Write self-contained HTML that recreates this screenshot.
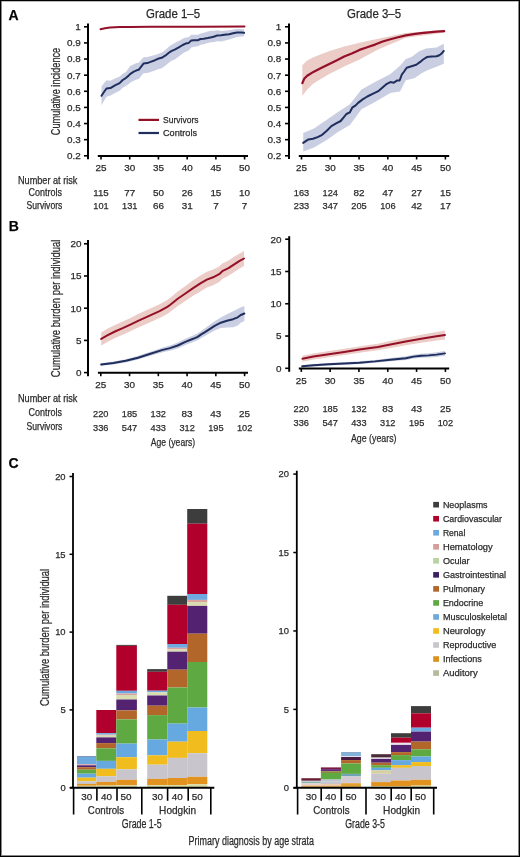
<!DOCTYPE html>
<html><head><meta charset="utf-8"><title>Figure</title>
<style>
html,body{margin:0;padding:0;background:#fff;}
body{width:520px;height:857px;overflow:hidden;position:relative;font-family:"Liberation Sans", sans-serif;}
svg{position:absolute;left:0;top:0;display:block;will-change:transform;}
svg text{font-family:"Liberation Sans", sans-serif;stroke:#2b2b2b;stroke-width:0.25px;}
</style></head>
<body>
<svg width="520" height="857" viewBox="0 0 520 857">
<rect x="0" y="0" width="520" height="857" fill="#fff"/>
<polygon points="101.50,86.42 104.00,83.23 106.50,80.34 110.40,80.83 115.00,78.51 119.60,76.58 122.70,73.73 125.80,72.08 128.80,68.00 130.00,66.10 133.80,64.13 136.70,63.07 138.70,62.79 140.60,60.61 143.50,57.14 147.30,57.08 151.20,56.02 155.00,55.06 157.90,53.99 161.70,52.61 165.60,49.80 168.50,47.09 171.30,44.89 175.20,42.81 178.80,41.01 182.70,38.82 185.60,37.57 188.50,37.23 191.30,34.68 194.20,34.64 198.10,34.85 200.50,33.50 203.80,32.85 207.70,31.61 211.50,30.85 214.40,30.74 217.30,30.33 221.20,31.01 224.40,30.63 229.20,30.32 233.10,29.57 236.90,28.92 240.80,29.07 244.10,29.50 244.10,36.30 240.80,36.40 236.90,36.90 233.10,38.17 229.20,39.57 224.40,40.67 221.20,41.57 217.30,41.26 214.40,41.94 211.50,42.32 207.70,43.11 203.80,44.16 200.50,44.66 198.10,46.15 194.20,46.80 191.30,47.48 188.50,50.65 185.60,51.63 182.70,53.52 178.80,56.57 175.20,59.17 171.30,61.05 168.50,63.07 165.60,65.59 161.70,68.15 157.90,69.29 155.00,70.51 151.20,71.66 147.30,72.91 143.50,73.17 140.60,76.78 138.70,79.06 136.70,79.43 133.80,80.64 130.00,82.80 128.80,83.89 125.80,86.09 122.70,87.86 119.60,90.82 115.00,92.92 110.40,95.42 106.50,96.66 104.00,100.77 101.50,105.18" fill="#cacee2"/>
<polyline points="101.50,95.80 104.00,92.00 106.50,88.50 110.40,88.10 115.00,85.40 119.60,83.10 122.70,80.00 125.80,78.10 128.80,75.40 130.00,74.10 133.80,71.70 136.70,70.30 138.70,69.80 140.60,67.40 143.50,63.60 147.30,63.10 151.20,61.60 155.00,60.20 157.90,58.80 161.70,57.80 165.60,55.40 168.50,53.00 171.30,51.10 175.20,49.40 178.80,47.40 182.70,45.00 185.60,43.60 188.50,43.10 191.30,40.40 194.20,40.20 198.10,40.20 200.50,39.00 203.80,38.80 207.70,38.10 211.50,37.30 214.40,36.50 217.30,35.40 221.20,35.20 224.40,34.70 229.20,34.20 233.10,33.30 236.90,32.50 240.80,32.50 244.10,32.80" fill="none" stroke="#1f2e5c" stroke-width="2.0" stroke-linejoin="round" stroke-linecap="round"/>
<polyline points="100.50,29.20 105.00,28.30 110.00,27.60 120.00,27.10 130.00,26.90 150.00,26.80 200.00,26.70 244.50,26.50" fill="none" stroke="#931028" stroke-width="2.0" stroke-linejoin="round" stroke-linecap="round"/>
<polygon points="302.30,65.20 307.20,60.40 313.40,57.30 328.80,51.20 344.20,46.50 359.50,42.70 378.00,38.80 405.80,33.10 444.20,29.80 444.20,32.80 405.80,37.70 378.00,49.60 359.50,59.60 344.20,66.50 328.80,74.20 313.40,83.50 307.20,89.60 302.30,95.80" fill="#ebccc6"/>
<polygon points="303.20,133.00 314.00,128.50 326.80,119.80 338.00,112.00 349.90,104.20 361.50,89.60 375.00,82.00 390.40,74.00 400.00,65.80 405.80,59.00 411.50,57.10 419.20,51.30 426.00,48.50 436.50,47.50 442.30,44.60 443.80,43.70 443.80,63.80 436.50,66.70 426.90,70.60 421.20,73.50 414.40,78.30 405.80,80.20 400.00,91.50 390.40,93.00 375.00,102.00 361.50,109.20 349.90,125.00 338.00,132.00 326.80,140.00 314.00,147.50 303.20,151.50" fill="#cacee2"/>
<polyline points="303.20,142.90 308.40,139.40 313.00,138.80 317.60,137.10 322.20,134.80 326.80,130.80 331.40,126.10 336.10,123.30 340.70,121.00 344.10,116.90 346.40,114.00 349.90,112.30 352.20,107.70 355.70,105.40 358.10,102.90 362.70,99.40 367.30,96.50 373.10,93.60 378.80,90.80 383.40,86.70 386.90,83.80 390.40,82.10 393.80,82.70 397.30,80.40 399.60,80.50 401.90,74.40 403.80,72.00 406.70,67.70 411.50,66.30 416.30,64.80 420.20,61.90 423.10,59.50 426.90,57.10 431.70,56.60 436.50,56.30 439.40,55.20 441.30,53.80 443.80,50.90" fill="none" stroke="#1f2e5c" stroke-width="2.0" stroke-linejoin="round" stroke-linecap="round"/>
<polyline points="302.30,83.20 304.20,78.80 307.20,75.80 313.40,71.90 321.10,68.10 328.80,64.20 336.50,60.40 344.20,56.50 351.80,53.50 359.50,49.90 367.20,47.30 375.00,44.60 382.70,41.50 390.40,39.20 398.10,37.20 405.80,35.40 413.50,34.20 421.20,33.10 428.80,32.30 436.50,31.70 444.20,31.20" fill="none" stroke="#931028" stroke-width="2.2" stroke-linejoin="round" stroke-linecap="round"/>
<line x1="88.00" y1="23.50" x2="88.00" y2="159.20" stroke="#000" stroke-width="2"/>
<line x1="84.00" y1="26.80" x2="88.00" y2="26.80" stroke="#000" stroke-width="1.6"/>
<text x="80.70" y="30.20" font-size="9.9" text-anchor="end" fill="#2b2b2b">1</text>
<line x1="84.00" y1="42.92" x2="88.00" y2="42.92" stroke="#000" stroke-width="1.6"/>
<text x="80.70" y="46.32" font-size="9.9" text-anchor="end" fill="#2b2b2b">0.9</text>
<line x1="84.00" y1="59.05" x2="88.00" y2="59.05" stroke="#000" stroke-width="1.6"/>
<text x="80.70" y="62.45" font-size="9.9" text-anchor="end" fill="#2b2b2b">0.8</text>
<line x1="84.00" y1="75.18" x2="88.00" y2="75.18" stroke="#000" stroke-width="1.6"/>
<text x="80.70" y="78.58" font-size="9.9" text-anchor="end" fill="#2b2b2b">0.7</text>
<line x1="84.00" y1="91.30" x2="88.00" y2="91.30" stroke="#000" stroke-width="1.6"/>
<text x="80.70" y="94.70" font-size="9.9" text-anchor="end" fill="#2b2b2b">0.6</text>
<line x1="84.00" y1="107.42" x2="88.00" y2="107.42" stroke="#000" stroke-width="1.6"/>
<text x="80.70" y="110.83" font-size="9.9" text-anchor="end" fill="#2b2b2b">0.5</text>
<line x1="84.00" y1="123.55" x2="88.00" y2="123.55" stroke="#000" stroke-width="1.6"/>
<text x="80.70" y="126.95" font-size="9.9" text-anchor="end" fill="#2b2b2b">0.4</text>
<line x1="84.00" y1="139.67" x2="88.00" y2="139.67" stroke="#000" stroke-width="1.6"/>
<text x="80.70" y="143.07" font-size="9.9" text-anchor="end" fill="#2b2b2b">0.3</text>
<line x1="84.00" y1="155.80" x2="88.00" y2="155.80" stroke="#000" stroke-width="1.6"/>
<text x="80.70" y="159.20" font-size="9.9" text-anchor="end" fill="#2b2b2b">0.2</text>
<line x1="97.80" y1="156.00" x2="248.00" y2="156.00" stroke="#000" stroke-width="2"/>
<line x1="101.00" y1="156.00" x2="101.00" y2="159.50" stroke="#000" stroke-width="1.6"/>
<text x="101.00" y="171.30" font-size="9.9" text-anchor="middle" fill="#2b2b2b">25</text>
<line x1="129.72" y1="156.00" x2="129.72" y2="159.50" stroke="#000" stroke-width="1.6"/>
<text x="129.72" y="171.30" font-size="9.9" text-anchor="middle" fill="#2b2b2b">30</text>
<line x1="158.44" y1="156.00" x2="158.44" y2="159.50" stroke="#000" stroke-width="1.6"/>
<text x="158.44" y="171.30" font-size="9.9" text-anchor="middle" fill="#2b2b2b">35</text>
<line x1="187.16" y1="156.00" x2="187.16" y2="159.50" stroke="#000" stroke-width="1.6"/>
<text x="187.16" y="171.30" font-size="9.9" text-anchor="middle" fill="#2b2b2b">40</text>
<line x1="215.88" y1="156.00" x2="215.88" y2="159.50" stroke="#000" stroke-width="1.6"/>
<text x="215.88" y="171.30" font-size="9.9" text-anchor="middle" fill="#2b2b2b">45</text>
<line x1="244.60" y1="156.00" x2="244.60" y2="159.50" stroke="#000" stroke-width="1.6"/>
<text x="244.60" y="171.30" font-size="9.9" text-anchor="middle" fill="#2b2b2b">50</text>
<line x1="289.00" y1="23.50" x2="289.00" y2="159.00" stroke="#000" stroke-width="2"/>
<line x1="285.00" y1="26.80" x2="289.00" y2="26.80" stroke="#000" stroke-width="1.6"/>
<text x="281.20" y="30.20" font-size="9.9" text-anchor="end" fill="#2b2b2b">1</text>
<line x1="285.00" y1="42.92" x2="289.00" y2="42.92" stroke="#000" stroke-width="1.6"/>
<text x="281.20" y="46.32" font-size="9.9" text-anchor="end" fill="#2b2b2b">0.9</text>
<line x1="285.00" y1="59.05" x2="289.00" y2="59.05" stroke="#000" stroke-width="1.6"/>
<text x="281.20" y="62.45" font-size="9.9" text-anchor="end" fill="#2b2b2b">0.8</text>
<line x1="285.00" y1="75.18" x2="289.00" y2="75.18" stroke="#000" stroke-width="1.6"/>
<text x="281.20" y="78.58" font-size="9.9" text-anchor="end" fill="#2b2b2b">0.7</text>
<line x1="285.00" y1="91.30" x2="289.00" y2="91.30" stroke="#000" stroke-width="1.6"/>
<text x="281.20" y="94.70" font-size="9.9" text-anchor="end" fill="#2b2b2b">0.6</text>
<line x1="285.00" y1="107.42" x2="289.00" y2="107.42" stroke="#000" stroke-width="1.6"/>
<text x="281.20" y="110.83" font-size="9.9" text-anchor="end" fill="#2b2b2b">0.5</text>
<line x1="285.00" y1="123.55" x2="289.00" y2="123.55" stroke="#000" stroke-width="1.6"/>
<text x="281.20" y="126.95" font-size="9.9" text-anchor="end" fill="#2b2b2b">0.4</text>
<line x1="285.00" y1="139.67" x2="289.00" y2="139.67" stroke="#000" stroke-width="1.6"/>
<text x="281.20" y="143.07" font-size="9.9" text-anchor="end" fill="#2b2b2b">0.3</text>
<line x1="285.00" y1="155.80" x2="289.00" y2="155.80" stroke="#000" stroke-width="1.6"/>
<text x="281.20" y="159.20" font-size="9.9" text-anchor="end" fill="#2b2b2b">0.2</text>
<line x1="298.80" y1="156.00" x2="449.20" y2="156.00" stroke="#000" stroke-width="2"/>
<line x1="301.50" y1="156.00" x2="301.50" y2="159.50" stroke="#000" stroke-width="1.6"/>
<text x="301.50" y="171.30" font-size="9.9" text-anchor="middle" fill="#2b2b2b">25</text>
<line x1="330.28" y1="156.00" x2="330.28" y2="159.50" stroke="#000" stroke-width="1.6"/>
<text x="330.28" y="171.30" font-size="9.9" text-anchor="middle" fill="#2b2b2b">30</text>
<line x1="359.06" y1="156.00" x2="359.06" y2="159.50" stroke="#000" stroke-width="1.6"/>
<text x="359.06" y="171.30" font-size="9.9" text-anchor="middle" fill="#2b2b2b">35</text>
<line x1="387.84" y1="156.00" x2="387.84" y2="159.50" stroke="#000" stroke-width="1.6"/>
<text x="387.84" y="171.30" font-size="9.9" text-anchor="middle" fill="#2b2b2b">40</text>
<line x1="416.62" y1="156.00" x2="416.62" y2="159.50" stroke="#000" stroke-width="1.6"/>
<text x="416.62" y="171.30" font-size="9.9" text-anchor="middle" fill="#2b2b2b">45</text>
<line x1="445.40" y1="156.00" x2="445.40" y2="159.50" stroke="#000" stroke-width="1.6"/>
<text x="445.40" y="171.30" font-size="9.9" text-anchor="middle" fill="#2b2b2b">50</text>
<text x="146.00" y="17.80" font-size="12" text-anchor="start" textLength="54" lengthAdjust="spacingAndGlyphs" fill="#2b2b2b">Grade 1–5</text>
<text x="347.00" y="17.80" font-size="12" text-anchor="start" textLength="54" lengthAdjust="spacingAndGlyphs" fill="#2b2b2b">Grade 3–5</text>
<text transform="translate(60.3,91.5) rotate(-90)" font-size="12" text-anchor="middle" textLength="87.4" lengthAdjust="spacingAndGlyphs" fill="#2b2b2b">Cumulative incidence</text>
<line x1="138.50" y1="119.90" x2="159.00" y2="119.90" stroke="#931028" stroke-width="2.2"/>
<line x1="138.50" y1="133.00" x2="159.00" y2="133.00" stroke="#1f2e5c" stroke-width="2.2"/>
<text x="163.00" y="123.40" font-size="9.8" text-anchor="start" textLength="35.5" lengthAdjust="spacingAndGlyphs" fill="#2b2b2b">Survivors</text>
<text x="163.00" y="136.00" font-size="9.8" text-anchor="start" textLength="34" lengthAdjust="spacingAndGlyphs" fill="#2b2b2b">Controls</text>
<text x="8.40" y="19.60" font-size="14" text-anchor="start" font-weight="bold" fill="#000">A</text>
<text x="8.80" y="231.20" font-size="14" text-anchor="start" font-weight="bold" fill="#000">B</text>
<text x="8.40" y="468.30" font-size="14" text-anchor="start" font-weight="bold" fill="#000">C</text>
<text x="18.00" y="183.50" font-size="10.1" text-anchor="start" textLength="59.4" lengthAdjust="spacingAndGlyphs" fill="#2b2b2b">Number at risk</text>
<text x="62.00" y="196.40" font-size="10.1" text-anchor="end" textLength="33.5" lengthAdjust="spacingAndGlyphs" fill="#2b2b2b">Controls</text>
<text x="62.30" y="208.70" font-size="10.1" text-anchor="end" textLength="35.7" lengthAdjust="spacingAndGlyphs" fill="#2b2b2b">Survivors</text>
<text x="101.00" y="196.20" font-size="9.9" text-anchor="middle" textLength="15.4" lengthAdjust="spacingAndGlyphs" fill="#2b2b2b">115</text>
<text x="101.00" y="208.80" font-size="9.9" text-anchor="middle" textLength="15.4" lengthAdjust="spacingAndGlyphs" fill="#2b2b2b">101</text>
<text x="129.72" y="196.20" font-size="9.9" text-anchor="middle" fill="#2b2b2b">77</text>
<text x="129.72" y="208.80" font-size="9.9" text-anchor="middle" textLength="15.4" lengthAdjust="spacingAndGlyphs" fill="#2b2b2b">131</text>
<text x="158.44" y="196.20" font-size="9.9" text-anchor="middle" fill="#2b2b2b">50</text>
<text x="158.44" y="208.80" font-size="9.9" text-anchor="middle" fill="#2b2b2b">66</text>
<text x="187.16" y="196.20" font-size="9.9" text-anchor="middle" fill="#2b2b2b">26</text>
<text x="187.16" y="208.80" font-size="9.9" text-anchor="middle" fill="#2b2b2b">31</text>
<text x="215.88" y="196.20" font-size="9.9" text-anchor="middle" fill="#2b2b2b">15</text>
<text x="215.88" y="208.80" font-size="9.9" text-anchor="middle" fill="#2b2b2b">7</text>
<text x="244.60" y="196.20" font-size="9.9" text-anchor="middle" fill="#2b2b2b">10</text>
<text x="244.60" y="208.80" font-size="9.9" text-anchor="middle" fill="#2b2b2b">7</text>
<text x="301.50" y="196.20" font-size="9.9" text-anchor="middle" textLength="15.4" lengthAdjust="spacingAndGlyphs" fill="#2b2b2b">163</text>
<text x="301.50" y="208.80" font-size="9.9" text-anchor="middle" textLength="15.4" lengthAdjust="spacingAndGlyphs" fill="#2b2b2b">233</text>
<text x="330.28" y="196.20" font-size="9.9" text-anchor="middle" textLength="15.4" lengthAdjust="spacingAndGlyphs" fill="#2b2b2b">124</text>
<text x="330.28" y="208.80" font-size="9.9" text-anchor="middle" textLength="15.4" lengthAdjust="spacingAndGlyphs" fill="#2b2b2b">347</text>
<text x="359.06" y="196.20" font-size="9.9" text-anchor="middle" fill="#2b2b2b">82</text>
<text x="359.06" y="208.80" font-size="9.9" text-anchor="middle" textLength="15.4" lengthAdjust="spacingAndGlyphs" fill="#2b2b2b">205</text>
<text x="387.84" y="196.20" font-size="9.9" text-anchor="middle" fill="#2b2b2b">47</text>
<text x="387.84" y="208.80" font-size="9.9" text-anchor="middle" textLength="15.4" lengthAdjust="spacingAndGlyphs" fill="#2b2b2b">106</text>
<text x="416.62" y="196.20" font-size="9.9" text-anchor="middle" fill="#2b2b2b">27</text>
<text x="416.62" y="208.80" font-size="9.9" text-anchor="middle" fill="#2b2b2b">42</text>
<text x="445.40" y="196.20" font-size="9.9" text-anchor="middle" fill="#2b2b2b">15</text>
<text x="445.40" y="208.80" font-size="9.9" text-anchor="middle" fill="#2b2b2b">17</text>
<polygon points="101.20,332.40 107.30,328.85 115.00,324.90 122.70,321.54 130.40,317.89 138.10,314.03 145.80,310.58 153.50,306.92 159.60,304.28 167.30,299.92 170.00,298.00 177.70,291.54 185.40,285.99 193.10,280.33 200.80,275.21 206.90,271.68 213.10,269.45 219.20,266.42 222.30,263.45 228.50,260.42 234.60,256.59 239.20,253.65 244.00,251.00 244.00,266.00 239.20,268.75 234.60,271.81 228.50,275.78 222.30,278.95 219.20,281.98 213.10,285.15 206.90,287.52 200.80,291.19 193.10,295.87 185.40,301.01 177.70,306.06 170.00,312.00 167.30,313.88 159.60,318.12 153.50,320.68 145.80,324.22 138.10,327.57 130.40,331.31 122.70,334.86 115.00,338.10 107.30,341.95 101.20,345.40" fill="#ebccc6"/>
<polygon points="101.20,363.20 113.50,361.42 125.80,359.15 138.10,355.87 150.40,351.69 162.70,347.46 170.00,345.40 177.70,342.59 185.40,338.79 193.10,335.48 197.70,333.36 200.80,331.14 205.40,328.00 210.00,324.55 214.60,321.20 220.80,317.51 226.90,314.19 233.10,311.14 237.70,309.10 240.80,307.14 244.40,306.00 244.40,321.00 240.80,322.86 237.70,325.50 233.10,327.26 226.90,327.41 220.80,327.89 214.60,330.40 210.00,333.05 205.40,335.80 200.80,338.26 197.70,340.24 193.10,342.12 185.40,345.01 177.70,348.41 170.00,350.80 162.70,352.34 150.40,355.71 138.10,359.53 125.80,362.45 113.50,364.38 101.20,365.80" fill="#cacee2"/>
<polyline points="101.20,338.90 107.30,335.40 115.00,331.50 122.70,328.20 130.40,324.60 138.10,320.80 145.80,317.40 153.50,313.80 159.60,311.20 167.30,306.90 170.00,305.00 177.70,298.80 185.40,293.50 193.10,288.10 200.80,283.20 206.90,279.60 213.10,277.30 219.20,274.20 222.30,271.20 228.50,268.10 234.60,264.20 239.20,261.20 244.00,258.50" fill="none" stroke="#931028" stroke-width="2.0" stroke-linejoin="round" stroke-linecap="round"/>
<polyline points="101.20,364.50 113.50,362.90 125.80,360.80 138.10,357.70 150.40,353.70 162.70,349.90 170.00,348.10 177.70,345.50 185.40,341.90 193.10,338.80 197.70,336.80 200.80,334.70 205.40,331.90 210.00,328.80 214.60,325.80 220.80,322.70 226.90,320.80 233.10,319.20 237.70,317.30 240.80,315.00 244.40,313.50" fill="none" stroke="#1f2e5c" stroke-width="2.0" stroke-linejoin="round" stroke-linecap="round"/>
<polygon points="302.40,355.79 313.40,353.45 328.80,351.09 344.20,348.74 359.50,346.38 370.30,344.74 378.00,343.71 390.40,341.12 405.80,337.76 421.20,334.80 436.50,331.94 445.00,330.60 445.00,339.40 436.50,340.46 421.20,342.80 405.80,345.24 390.40,348.08 378.00,350.29 370.30,351.26 359.50,352.82 344.20,355.06 328.80,357.31 313.40,359.55 302.40,361.81" fill="#ebccc6"/>
<polygon points="302.20,365.29 313.40,364.22 328.80,363.02 344.20,362.23 359.50,361.33 375.00,359.93 390.40,358.06 405.80,356.34 413.50,354.64 421.20,353.63 428.80,353.22 436.50,352.32 445.00,351.00 445.00,355.80 436.50,356.88 428.80,357.58 421.20,357.77 413.50,358.56 405.80,360.06 390.40,361.34 375.00,362.87 359.50,364.07 344.20,364.77 328.80,365.38 313.40,366.38 302.20,367.31" fill="#cacee2"/>
<polyline points="302.40,358.80 313.40,356.50 328.80,354.20 344.20,351.90 359.50,349.60 370.30,348.00 378.00,347.00 390.40,344.60 405.80,341.50 421.20,338.80 436.50,336.20 445.00,335.00" fill="none" stroke="#931028" stroke-width="2.0" stroke-linejoin="round" stroke-linecap="round"/>
<polyline points="302.20,366.30 313.40,365.30 328.80,364.20 344.20,363.50 359.50,362.70 375.00,361.40 390.40,359.70 405.80,358.20 413.50,356.60 421.20,355.70 428.80,355.40 436.50,354.60 445.00,353.40" fill="none" stroke="#1f2e5c" stroke-width="1.9" stroke-linejoin="round" stroke-linecap="round"/>
<line x1="88.00" y1="240.00" x2="88.00" y2="376.30" stroke="#000" stroke-width="2"/>
<line x1="84.00" y1="243.80" x2="88.00" y2="243.80" stroke="#000" stroke-width="1.6"/>
<text x="81.50" y="247.20" font-size="9.9" text-anchor="end" fill="#2b2b2b">20</text>
<line x1="84.00" y1="276.00" x2="88.00" y2="276.00" stroke="#000" stroke-width="1.6"/>
<text x="81.50" y="279.40" font-size="9.9" text-anchor="end" fill="#2b2b2b">15</text>
<line x1="84.00" y1="308.20" x2="88.00" y2="308.20" stroke="#000" stroke-width="1.6"/>
<text x="81.50" y="311.60" font-size="9.9" text-anchor="end" fill="#2b2b2b">10</text>
<line x1="84.00" y1="340.40" x2="88.00" y2="340.40" stroke="#000" stroke-width="1.6"/>
<text x="81.50" y="343.80" font-size="9.9" text-anchor="end" fill="#2b2b2b">5</text>
<line x1="84.00" y1="372.60" x2="88.00" y2="372.60" stroke="#000" stroke-width="1.6"/>
<text x="81.50" y="376.00" font-size="9.9" text-anchor="end" fill="#2b2b2b">0</text>
<line x1="97.90" y1="372.70" x2="248.00" y2="372.70" stroke="#000" stroke-width="2"/>
<line x1="100.80" y1="372.70" x2="100.80" y2="376.20" stroke="#000" stroke-width="1.6"/>
<text x="100.80" y="388.00" font-size="9.9" text-anchor="middle" fill="#2b2b2b">25</text>
<line x1="129.56" y1="372.70" x2="129.56" y2="376.20" stroke="#000" stroke-width="1.6"/>
<text x="129.56" y="388.00" font-size="9.9" text-anchor="middle" fill="#2b2b2b">30</text>
<line x1="158.32" y1="372.70" x2="158.32" y2="376.20" stroke="#000" stroke-width="1.6"/>
<text x="158.32" y="388.00" font-size="9.9" text-anchor="middle" fill="#2b2b2b">35</text>
<line x1="187.08" y1="372.70" x2="187.08" y2="376.20" stroke="#000" stroke-width="1.6"/>
<text x="187.08" y="388.00" font-size="9.9" text-anchor="middle" fill="#2b2b2b">40</text>
<line x1="215.84" y1="372.70" x2="215.84" y2="376.20" stroke="#000" stroke-width="1.6"/>
<text x="215.84" y="388.00" font-size="9.9" text-anchor="middle" fill="#2b2b2b">45</text>
<line x1="244.60" y1="372.70" x2="244.60" y2="376.20" stroke="#000" stroke-width="1.6"/>
<text x="244.60" y="388.00" font-size="9.9" text-anchor="middle" fill="#2b2b2b">50</text>
<line x1="289.20" y1="236.20" x2="289.20" y2="371.80" stroke="#000" stroke-width="2"/>
<line x1="285.20" y1="239.20" x2="289.20" y2="239.20" stroke="#000" stroke-width="1.6"/>
<text x="281.50" y="242.60" font-size="9.9" text-anchor="end" fill="#2b2b2b">20</text>
<line x1="285.20" y1="271.48" x2="289.20" y2="271.48" stroke="#000" stroke-width="1.6"/>
<text x="281.50" y="274.88" font-size="9.9" text-anchor="end" fill="#2b2b2b">15</text>
<line x1="285.20" y1="303.75" x2="289.20" y2="303.75" stroke="#000" stroke-width="1.6"/>
<text x="281.50" y="307.15" font-size="9.9" text-anchor="end" fill="#2b2b2b">10</text>
<line x1="285.20" y1="336.03" x2="289.20" y2="336.03" stroke="#000" stroke-width="1.6"/>
<text x="281.50" y="339.43" font-size="9.9" text-anchor="end" fill="#2b2b2b">5</text>
<line x1="285.20" y1="368.30" x2="289.20" y2="368.30" stroke="#000" stroke-width="1.6"/>
<text x="281.50" y="371.70" font-size="9.9" text-anchor="end" fill="#2b2b2b">0</text>
<line x1="298.80" y1="368.40" x2="449.20" y2="368.40" stroke="#000" stroke-width="2"/>
<line x1="301.30" y1="368.40" x2="301.30" y2="371.90" stroke="#000" stroke-width="1.6"/>
<text x="301.30" y="383.80" font-size="9.9" text-anchor="middle" fill="#2b2b2b">25</text>
<line x1="330.12" y1="368.40" x2="330.12" y2="371.90" stroke="#000" stroke-width="1.6"/>
<text x="330.12" y="383.80" font-size="9.9" text-anchor="middle" fill="#2b2b2b">30</text>
<line x1="358.94" y1="368.40" x2="358.94" y2="371.90" stroke="#000" stroke-width="1.6"/>
<text x="358.94" y="383.80" font-size="9.9" text-anchor="middle" fill="#2b2b2b">35</text>
<line x1="387.76" y1="368.40" x2="387.76" y2="371.90" stroke="#000" stroke-width="1.6"/>
<text x="387.76" y="383.80" font-size="9.9" text-anchor="middle" fill="#2b2b2b">40</text>
<line x1="416.58" y1="368.40" x2="416.58" y2="371.90" stroke="#000" stroke-width="1.6"/>
<text x="416.58" y="383.80" font-size="9.9" text-anchor="middle" fill="#2b2b2b">45</text>
<line x1="445.40" y1="368.40" x2="445.40" y2="371.90" stroke="#000" stroke-width="1.6"/>
<text x="445.40" y="383.80" font-size="9.9" text-anchor="middle" fill="#2b2b2b">50</text>
<text transform="translate(60.3,308.4) rotate(-90)" font-size="12" text-anchor="middle" textLength="137.5" lengthAdjust="spacingAndGlyphs" fill="#2b2b2b">Cumulative burden per individual</text>
<text x="18.00" y="402.40" font-size="10.1" text-anchor="start" textLength="59.4" lengthAdjust="spacingAndGlyphs" fill="#2b2b2b">Number at risk</text>
<text x="62.00" y="416.40" font-size="10.1" text-anchor="end" textLength="33.5" lengthAdjust="spacingAndGlyphs" fill="#2b2b2b">Controls</text>
<text x="62.30" y="429.80" font-size="10.1" text-anchor="end" textLength="35.7" lengthAdjust="spacingAndGlyphs" fill="#2b2b2b">Survivors</text>
<text x="100.80" y="416.60" font-size="9.9" text-anchor="middle" textLength="15.4" lengthAdjust="spacingAndGlyphs" fill="#2b2b2b">220</text>
<text x="100.80" y="430.60" font-size="9.9" text-anchor="middle" textLength="15.4" lengthAdjust="spacingAndGlyphs" fill="#2b2b2b">336</text>
<text x="129.56" y="416.60" font-size="9.9" text-anchor="middle" textLength="15.4" lengthAdjust="spacingAndGlyphs" fill="#2b2b2b">185</text>
<text x="129.56" y="430.60" font-size="9.9" text-anchor="middle" textLength="15.4" lengthAdjust="spacingAndGlyphs" fill="#2b2b2b">547</text>
<text x="158.32" y="416.60" font-size="9.9" text-anchor="middle" textLength="15.4" lengthAdjust="spacingAndGlyphs" fill="#2b2b2b">132</text>
<text x="158.32" y="430.60" font-size="9.9" text-anchor="middle" textLength="15.4" lengthAdjust="spacingAndGlyphs" fill="#2b2b2b">433</text>
<text x="187.08" y="416.60" font-size="9.9" text-anchor="middle" fill="#2b2b2b">83</text>
<text x="187.08" y="430.60" font-size="9.9" text-anchor="middle" textLength="15.4" lengthAdjust="spacingAndGlyphs" fill="#2b2b2b">312</text>
<text x="215.84" y="416.60" font-size="9.9" text-anchor="middle" fill="#2b2b2b">43</text>
<text x="215.84" y="430.60" font-size="9.9" text-anchor="middle" textLength="15.4" lengthAdjust="spacingAndGlyphs" fill="#2b2b2b">195</text>
<text x="244.60" y="416.60" font-size="9.9" text-anchor="middle" fill="#2b2b2b">25</text>
<text x="244.60" y="430.60" font-size="9.9" text-anchor="middle" textLength="15.4" lengthAdjust="spacingAndGlyphs" fill="#2b2b2b">102</text>
<text x="301.30" y="412.20" font-size="9.9" text-anchor="middle" textLength="15.4" lengthAdjust="spacingAndGlyphs" fill="#2b2b2b">220</text>
<text x="301.30" y="426.00" font-size="9.9" text-anchor="middle" textLength="15.4" lengthAdjust="spacingAndGlyphs" fill="#2b2b2b">336</text>
<text x="330.12" y="412.20" font-size="9.9" text-anchor="middle" textLength="15.4" lengthAdjust="spacingAndGlyphs" fill="#2b2b2b">185</text>
<text x="330.12" y="426.00" font-size="9.9" text-anchor="middle" textLength="15.4" lengthAdjust="spacingAndGlyphs" fill="#2b2b2b">547</text>
<text x="358.94" y="412.20" font-size="9.9" text-anchor="middle" textLength="15.4" lengthAdjust="spacingAndGlyphs" fill="#2b2b2b">132</text>
<text x="358.94" y="426.00" font-size="9.9" text-anchor="middle" textLength="15.4" lengthAdjust="spacingAndGlyphs" fill="#2b2b2b">433</text>
<text x="387.76" y="412.20" font-size="9.9" text-anchor="middle" fill="#2b2b2b">83</text>
<text x="387.76" y="426.00" font-size="9.9" text-anchor="middle" textLength="15.4" lengthAdjust="spacingAndGlyphs" fill="#2b2b2b">312</text>
<text x="416.58" y="412.20" font-size="9.9" text-anchor="middle" fill="#2b2b2b">43</text>
<text x="416.58" y="426.00" font-size="9.9" text-anchor="middle" textLength="15.4" lengthAdjust="spacingAndGlyphs" fill="#2b2b2b">195</text>
<text x="445.40" y="412.20" font-size="9.9" text-anchor="middle" fill="#2b2b2b">25</text>
<text x="445.40" y="426.00" font-size="9.9" text-anchor="middle" textLength="15.4" lengthAdjust="spacingAndGlyphs" fill="#2b2b2b">102</text>
<text x="150.80" y="446.40" font-size="11.3" text-anchor="start" textLength="44.4" lengthAdjust="spacingAndGlyphs" fill="#2b2b2b">Age (years)</text>
<text x="351.00" y="441.80" font-size="11.3" text-anchor="start" textLength="45.5" lengthAdjust="spacingAndGlyphs" fill="#2b2b2b">Age (years)</text>
<rect x="77.00" y="756.20" width="19.30" height="0.70" fill="#4a6a98"/>
<rect x="77.00" y="756.90" width="19.30" height="7.40" fill="#6eaae0"/>
<rect x="77.00" y="764.30" width="19.30" height="1.00" fill="#d9a3a0"/>
<rect x="77.00" y="765.30" width="19.30" height="1.90" fill="#532270"/>
<rect x="77.00" y="767.20" width="19.30" height="2.50" fill="#b3662a"/>
<rect x="77.00" y="769.70" width="19.30" height="4.00" fill="#5fa943"/>
<rect x="77.00" y="773.70" width="19.30" height="4.00" fill="#66a9e0"/>
<rect x="77.00" y="777.70" width="19.30" height="3.50" fill="#f1bd1e"/>
<rect x="77.00" y="781.20" width="19.30" height="2.70" fill="#c8c6cc"/>
<rect x="77.00" y="783.90" width="19.30" height="1.90" fill="#e2921e"/>
<rect x="77.00" y="785.80" width="19.30" height="1.20" fill="#d9dba3"/>
<rect x="96.30" y="710.00" width="20.00" height="23.10" fill="#b0002b"/>
<rect x="96.30" y="733.10" width="20.00" height="1.60" fill="#6eaae0"/>
<rect x="96.30" y="734.70" width="20.00" height="0.90" fill="#d9a3a0"/>
<rect x="96.30" y="735.60" width="20.00" height="1.80" fill="#d8dcb0"/>
<rect x="96.30" y="737.40" width="20.00" height="5.70" fill="#532270"/>
<rect x="96.30" y="743.10" width="20.00" height="5.20" fill="#b3662a"/>
<rect x="96.30" y="748.30" width="20.00" height="12.60" fill="#5fa943"/>
<rect x="96.30" y="760.90" width="20.00" height="7.90" fill="#66a9e0"/>
<rect x="96.30" y="768.80" width="20.00" height="7.40" fill="#f1bd1e"/>
<rect x="96.30" y="776.20" width="20.00" height="5.70" fill="#c8c6cc"/>
<rect x="96.30" y="781.90" width="20.00" height="3.70" fill="#e2921e"/>
<rect x="96.30" y="785.60" width="20.00" height="1.40" fill="#d9dba3"/>
<rect x="116.30" y="644.90" width="20.60" height="1.00" fill="#3d3d3d"/>
<rect x="116.30" y="645.90" width="20.60" height="44.90" fill="#b0002b"/>
<rect x="116.30" y="690.80" width="20.60" height="2.70" fill="#6eaae0"/>
<rect x="116.30" y="693.50" width="20.60" height="1.50" fill="#d9a3a0"/>
<rect x="116.30" y="695.00" width="20.60" height="4.50" fill="#d8dcb0"/>
<rect x="116.30" y="699.50" width="20.60" height="10.90" fill="#532270"/>
<rect x="116.30" y="710.40" width="20.60" height="9.00" fill="#b3662a"/>
<rect x="116.30" y="719.40" width="20.60" height="24.20" fill="#5fa943"/>
<rect x="116.30" y="743.60" width="20.60" height="13.60" fill="#66a9e0"/>
<rect x="116.30" y="757.20" width="20.60" height="12.10" fill="#f1bd1e"/>
<rect x="116.30" y="769.30" width="20.60" height="10.50" fill="#c8c6cc"/>
<rect x="116.30" y="779.80" width="20.60" height="5.60" fill="#e2921e"/>
<rect x="116.30" y="785.40" width="20.60" height="1.60" fill="#d9dba3"/>
<rect x="147.20" y="669.10" width="20.10" height="2.70" fill="#3d3d3d"/>
<rect x="147.20" y="671.80" width="20.10" height="18.90" fill="#b0002b"/>
<rect x="147.20" y="690.70" width="20.10" height="1.60" fill="#6eaae0"/>
<rect x="147.20" y="692.30" width="20.10" height="3.20" fill="#d8dcb0"/>
<rect x="147.20" y="695.50" width="20.10" height="10.20" fill="#532270"/>
<rect x="147.20" y="705.70" width="20.10" height="9.40" fill="#b3662a"/>
<rect x="147.20" y="715.10" width="20.10" height="24.40" fill="#5fa943"/>
<rect x="147.20" y="739.50" width="20.10" height="15.80" fill="#66a9e0"/>
<rect x="147.20" y="755.30" width="20.10" height="9.40" fill="#f1bd1e"/>
<rect x="147.20" y="764.70" width="20.10" height="14.20" fill="#c8c6cc"/>
<rect x="147.20" y="778.90" width="20.10" height="6.30" fill="#e2921e"/>
<rect x="147.20" y="785.20" width="20.10" height="1.80" fill="#d9dba3"/>
<rect x="167.30" y="595.80" width="19.90" height="9.00" fill="#3d3d3d"/>
<rect x="167.30" y="604.80" width="19.90" height="39.20" fill="#b0002b"/>
<rect x="167.30" y="644.00" width="19.90" height="3.80" fill="#6eaae0"/>
<rect x="167.30" y="647.80" width="19.90" height="1.70" fill="#d9a3a0"/>
<rect x="167.30" y="649.50" width="19.90" height="2.20" fill="#d8dcb0"/>
<rect x="167.30" y="651.70" width="19.90" height="18.00" fill="#532270"/>
<rect x="167.30" y="669.70" width="19.90" height="17.80" fill="#b3662a"/>
<rect x="167.30" y="687.50" width="19.90" height="36.10" fill="#5fa943"/>
<rect x="167.30" y="723.60" width="19.90" height="18.10" fill="#66a9e0"/>
<rect x="167.30" y="741.70" width="19.90" height="16.20" fill="#f1bd1e"/>
<rect x="167.30" y="757.90" width="19.90" height="20.10" fill="#c8c6cc"/>
<rect x="167.30" y="778.00" width="19.90" height="7.00" fill="#e2921e"/>
<rect x="167.30" y="785.00" width="19.90" height="2.00" fill="#d9dba3"/>
<rect x="187.20" y="509.00" width="20.10" height="14.70" fill="#3d3d3d"/>
<rect x="187.20" y="523.70" width="20.10" height="70.30" fill="#b0002b"/>
<rect x="187.20" y="594.00" width="20.10" height="5.90" fill="#6eaae0"/>
<rect x="187.20" y="599.90" width="20.10" height="2.10" fill="#d9a3a0"/>
<rect x="187.20" y="602.00" width="20.10" height="3.90" fill="#d8dcb0"/>
<rect x="187.20" y="605.90" width="20.10" height="27.80" fill="#532270"/>
<rect x="187.20" y="633.70" width="20.10" height="28.30" fill="#b3662a"/>
<rect x="187.20" y="662.00" width="20.10" height="45.50" fill="#5fa943"/>
<rect x="187.20" y="707.50" width="20.10" height="23.50" fill="#66a9e0"/>
<rect x="187.20" y="731.00" width="20.10" height="22.20" fill="#f1bd1e"/>
<rect x="187.20" y="753.20" width="20.10" height="23.60" fill="#c8c6cc"/>
<rect x="187.20" y="776.80" width="20.10" height="7.40" fill="#e2921e"/>
<rect x="187.20" y="784.20" width="20.10" height="2.80" fill="#d9dba3"/>
<rect x="301.40" y="778.20" width="19.50" height="2.60" fill="#6a2038"/>
<rect x="301.40" y="780.80" width="19.50" height="0.80" fill="#d8c4c8"/>
<rect x="301.40" y="781.60" width="19.50" height="1.80" fill="#86b8b4"/>
<rect x="301.40" y="783.40" width="19.50" height="1.70" fill="#e8d0cc"/>
<rect x="301.40" y="785.10" width="19.50" height="1.30" fill="#ecc49a"/>
<rect x="301.40" y="786.40" width="19.50" height="0.60" fill="#e2921e"/>
<rect x="320.90" y="767.40" width="20.20" height="1.70" fill="#7a1a42"/>
<rect x="320.90" y="769.10" width="20.20" height="2.10" fill="#66287a"/>
<rect x="320.90" y="771.20" width="20.20" height="1.80" fill="#8a8a3a"/>
<rect x="320.90" y="773.00" width="20.20" height="6.50" fill="#5fa943"/>
<rect x="320.90" y="779.50" width="20.20" height="2.10" fill="#b8c4d4"/>
<rect x="320.90" y="781.60" width="20.20" height="2.60" fill="#c8c6cc"/>
<rect x="320.90" y="784.20" width="20.20" height="2.20" fill="#ecc49a"/>
<rect x="320.90" y="786.40" width="20.20" height="0.60" fill="#e2921e"/>
<rect x="341.10" y="752.10" width="19.80" height="0.60" fill="#4a6a98"/>
<rect x="341.10" y="752.70" width="19.80" height="3.40" fill="#80b2da"/>
<rect x="341.10" y="756.10" width="19.80" height="0.90" fill="#e8e0f0"/>
<rect x="341.10" y="757.00" width="19.80" height="3.10" fill="#4a1a40"/>
<rect x="341.10" y="760.10" width="19.80" height="3.40" fill="#b3662a"/>
<rect x="341.10" y="763.50" width="19.80" height="10.40" fill="#5fa943"/>
<rect x="341.10" y="773.90" width="19.80" height="2.50" fill="#70a4b4"/>
<rect x="341.10" y="776.40" width="19.80" height="6.80" fill="#d4cad2"/>
<rect x="341.10" y="783.20" width="19.80" height="3.60" fill="#e0a032"/>
<rect x="341.10" y="786.80" width="19.80" height="0.20" fill="#e2921e"/>
<rect x="371.20" y="754.20" width="19.80" height="3.40" fill="#4a2a35"/>
<rect x="371.20" y="757.60" width="19.80" height="1.30" fill="#ece4ea"/>
<rect x="371.20" y="758.90" width="19.80" height="3.80" fill="#532270"/>
<rect x="371.20" y="762.70" width="19.80" height="2.50" fill="#b3662a"/>
<rect x="371.20" y="765.20" width="19.80" height="2.60" fill="#5fa943"/>
<rect x="371.20" y="767.80" width="19.80" height="2.50" fill="#66a9e0"/>
<rect x="371.20" y="770.30" width="19.80" height="3.40" fill="#d8d0a0"/>
<rect x="371.20" y="773.70" width="19.80" height="8.40" fill="#c8c6cc"/>
<rect x="371.20" y="782.10" width="19.80" height="4.30" fill="#e2921e"/>
<rect x="371.20" y="786.40" width="19.80" height="0.60" fill="#d9dba3"/>
<rect x="391.00" y="733.20" width="20.00" height="4.50" fill="#3d3d3d"/>
<rect x="391.00" y="737.70" width="20.00" height="5.10" fill="#b0002b"/>
<rect x="391.00" y="742.80" width="20.00" height="2.10" fill="#ece4ea"/>
<rect x="391.00" y="744.90" width="20.00" height="7.20" fill="#532270"/>
<rect x="391.00" y="752.10" width="20.00" height="3.00" fill="#b3662a"/>
<rect x="391.00" y="755.10" width="20.00" height="5.00" fill="#5fa943"/>
<rect x="391.00" y="760.10" width="20.00" height="5.10" fill="#66a9e0"/>
<rect x="391.00" y="765.20" width="20.00" height="2.60" fill="#f1bd1e"/>
<rect x="391.00" y="767.80" width="20.00" height="12.70" fill="#c8c6cc"/>
<rect x="391.00" y="780.50" width="20.00" height="5.90" fill="#e2921e"/>
<rect x="391.00" y="786.40" width="20.00" height="0.60" fill="#d9dba3"/>
<rect x="411.00" y="706.10" width="20.00" height="7.20" fill="#3d3d3d"/>
<rect x="411.00" y="713.30" width="20.00" height="14.40" fill="#b0002b"/>
<rect x="411.00" y="727.70" width="20.00" height="3.90" fill="#6eaae0"/>
<rect x="411.00" y="731.60" width="20.00" height="10.00" fill="#532270"/>
<rect x="411.00" y="741.60" width="20.00" height="7.70" fill="#b3662a"/>
<rect x="411.00" y="749.30" width="20.00" height="7.20" fill="#5fa943"/>
<rect x="411.00" y="756.50" width="20.00" height="5.60" fill="#66a9e0"/>
<rect x="411.00" y="762.10" width="20.00" height="3.90" fill="#f1bd1e"/>
<rect x="411.00" y="766.00" width="20.00" height="13.80" fill="#c8c6cc"/>
<rect x="411.00" y="779.80" width="20.00" height="5.80" fill="#e2921e"/>
<rect x="411.00" y="785.60" width="20.00" height="1.40" fill="#d9dba3"/>
<line x1="73.00" y1="473.10" x2="73.00" y2="788.20" stroke="#000" stroke-width="1.8"/>
<line x1="69.50" y1="476.50" x2="73.00" y2="476.50" stroke="#000" stroke-width="1.5"/>
<text x="65.60" y="479.80" font-size="9.4" text-anchor="end" fill="#2b2b2b">20</text>
<line x1="69.50" y1="554.30" x2="73.00" y2="554.30" stroke="#000" stroke-width="1.5"/>
<text x="65.60" y="557.60" font-size="9.4" text-anchor="end" fill="#2b2b2b">15</text>
<line x1="69.50" y1="632.10" x2="73.00" y2="632.10" stroke="#000" stroke-width="1.5"/>
<text x="65.60" y="635.40" font-size="9.4" text-anchor="end" fill="#2b2b2b">10</text>
<line x1="69.50" y1="709.90" x2="73.00" y2="709.90" stroke="#000" stroke-width="1.5"/>
<text x="65.60" y="713.20" font-size="9.4" text-anchor="end" fill="#2b2b2b">5</text>
<line x1="69.50" y1="787.70" x2="73.00" y2="787.70" stroke="#000" stroke-width="1.5"/>
<text x="65.60" y="791.00" font-size="9.4" text-anchor="end" fill="#2b2b2b">0</text>
<line x1="70.00" y1="787.70" x2="214.30" y2="787.70" stroke="#000" stroke-width="2"/>
<line x1="73.60" y1="787.70" x2="73.60" y2="814.50" stroke="#000" stroke-width="1.6"/>
<line x1="141.80" y1="787.70" x2="141.80" y2="814.50" stroke="#000" stroke-width="1.6"/>
<line x1="210.80" y1="787.70" x2="210.80" y2="814.50" stroke="#000" stroke-width="1.6"/>
<line x1="96.90" y1="787.70" x2="96.90" y2="800.80" stroke="#000" stroke-width="1.6"/>
<line x1="117.00" y1="787.70" x2="117.00" y2="800.80" stroke="#000" stroke-width="1.6"/>
<line x1="167.60" y1="787.70" x2="167.60" y2="800.80" stroke="#000" stroke-width="1.6"/>
<line x1="188.20" y1="787.70" x2="188.20" y2="800.80" stroke="#000" stroke-width="1.6"/>
<text x="86.80" y="799.70" font-size="9.9" text-anchor="middle" fill="#2b2b2b">30</text>
<text x="106.60" y="799.70" font-size="9.9" text-anchor="middle" fill="#2b2b2b">40</text>
<text x="126.10" y="799.70" font-size="9.9" text-anchor="middle" fill="#2b2b2b">50</text>
<text x="157.40" y="799.70" font-size="9.9" text-anchor="middle" fill="#2b2b2b">30</text>
<text x="177.30" y="799.70" font-size="9.9" text-anchor="middle" fill="#2b2b2b">40</text>
<text x="197.20" y="799.70" font-size="9.9" text-anchor="middle" fill="#2b2b2b">50</text>
<text x="106.00" y="813.80" font-size="10.5" text-anchor="middle" textLength="36.3" lengthAdjust="spacingAndGlyphs" fill="#2b2b2b">Controls</text>
<text x="177.60" y="813.80" font-size="10.5" text-anchor="middle" textLength="37.0" lengthAdjust="spacingAndGlyphs" fill="#2b2b2b">Hodgkin</text>
<text x="141.70" y="828.40" font-size="12.3" text-anchor="middle" textLength="39.7" lengthAdjust="spacingAndGlyphs" fill="#2b2b2b">Grade 1-5</text>
<line x1="296.80" y1="470.80" x2="296.80" y2="788.30" stroke="#000" stroke-width="1.8"/>
<line x1="293.30" y1="474.10" x2="296.80" y2="474.10" stroke="#000" stroke-width="1.5"/>
<text x="289.00" y="477.40" font-size="9.4" text-anchor="end" fill="#2b2b2b">20</text>
<line x1="293.30" y1="552.52" x2="296.80" y2="552.52" stroke="#000" stroke-width="1.5"/>
<text x="289.00" y="555.82" font-size="9.4" text-anchor="end" fill="#2b2b2b">15</text>
<line x1="293.30" y1="630.95" x2="296.80" y2="630.95" stroke="#000" stroke-width="1.5"/>
<text x="289.00" y="634.25" font-size="9.4" text-anchor="end" fill="#2b2b2b">10</text>
<line x1="293.30" y1="709.38" x2="296.80" y2="709.38" stroke="#000" stroke-width="1.5"/>
<text x="289.00" y="712.67" font-size="9.4" text-anchor="end" fill="#2b2b2b">5</text>
<line x1="293.30" y1="787.80" x2="296.80" y2="787.80" stroke="#000" stroke-width="1.5"/>
<text x="289.00" y="791.10" font-size="9.4" text-anchor="end" fill="#2b2b2b">0</text>
<line x1="293.50" y1="787.80" x2="437.00" y2="787.80" stroke="#000" stroke-width="2"/>
<line x1="297.60" y1="787.80" x2="297.60" y2="814.50" stroke="#000" stroke-width="1.6"/>
<line x1="366.00" y1="787.80" x2="366.00" y2="814.50" stroke="#000" stroke-width="1.6"/>
<line x1="433.70" y1="787.80" x2="433.70" y2="814.50" stroke="#000" stroke-width="1.6"/>
<line x1="321.20" y1="787.80" x2="321.20" y2="800.80" stroke="#000" stroke-width="1.6"/>
<line x1="341.30" y1="787.80" x2="341.30" y2="800.80" stroke="#000" stroke-width="1.6"/>
<line x1="391.20" y1="787.80" x2="391.20" y2="800.80" stroke="#000" stroke-width="1.6"/>
<line x1="411.20" y1="787.80" x2="411.20" y2="800.80" stroke="#000" stroke-width="1.6"/>
<text x="311.20" y="799.70" font-size="9.9" text-anchor="middle" fill="#2b2b2b">30</text>
<text x="330.70" y="799.70" font-size="9.9" text-anchor="middle" fill="#2b2b2b">40</text>
<text x="350.90" y="799.70" font-size="9.9" text-anchor="middle" fill="#2b2b2b">50</text>
<text x="380.60" y="799.70" font-size="9.9" text-anchor="middle" fill="#2b2b2b">30</text>
<text x="400.60" y="799.70" font-size="9.9" text-anchor="middle" fill="#2b2b2b">40</text>
<text x="420.60" y="799.70" font-size="9.9" text-anchor="middle" fill="#2b2b2b">50</text>
<text x="331.40" y="813.80" font-size="10.5" text-anchor="middle" textLength="36.3" lengthAdjust="spacingAndGlyphs" fill="#2b2b2b">Controls</text>
<text x="401.60" y="813.80" font-size="10.5" text-anchor="middle" textLength="37.0" lengthAdjust="spacingAndGlyphs" fill="#2b2b2b">Hodgkin</text>
<text x="365.10" y="828.40" font-size="12.3" text-anchor="middle" textLength="39.7" lengthAdjust="spacingAndGlyphs" fill="#2b2b2b">Grade 3-5</text>
<text transform="translate(48.7,637.4) rotate(-90)" font-size="12" text-anchor="middle" textLength="137.2" lengthAdjust="spacingAndGlyphs" fill="#2b2b2b">Cumulative burden per individual</text>
<text x="188.60" y="845.40" font-size="12.3" text-anchor="start" textLength="125.4" lengthAdjust="spacingAndGlyphs" fill="#2b2b2b">Primary diagnosis by age strata</text>
<rect x="433.20" y="501.90" width="5.80" height="5.60" fill="#3d3d3d"/>
<text x="442.90" y="508.00" font-size="9.4" text-anchor="start" textLength="44.7" lengthAdjust="spacingAndGlyphs" fill="#2b2b2b">Neoplasms</text>
<rect x="433.20" y="515.93" width="5.80" height="5.60" fill="#b0002b"/>
<text x="442.90" y="522.03" font-size="9.4" text-anchor="start" textLength="59.1" lengthAdjust="spacingAndGlyphs" fill="#2b2b2b">Cardiovascular</text>
<rect x="433.20" y="529.96" width="5.80" height="5.60" fill="#6eaae0"/>
<text x="442.90" y="536.06" font-size="9.4" text-anchor="start" textLength="22.4" lengthAdjust="spacingAndGlyphs" fill="#2b2b2b">Renal</text>
<rect x="433.20" y="543.99" width="5.80" height="5.60" fill="#d69e98"/>
<text x="442.90" y="550.09" font-size="9.4" text-anchor="start" textLength="49.8" lengthAdjust="spacingAndGlyphs" fill="#2b2b2b">Hematology</text>
<rect x="433.20" y="558.02" width="5.80" height="5.60" fill="#b9d3a2"/>
<text x="442.90" y="564.12" font-size="9.4" text-anchor="start" textLength="26.7" lengthAdjust="spacingAndGlyphs" fill="#2b2b2b">Ocular</text>
<rect x="433.20" y="572.05" width="5.80" height="5.60" fill="#3c2064"/>
<text x="442.90" y="578.15" font-size="9.4" text-anchor="start" textLength="63.2" lengthAdjust="spacingAndGlyphs" fill="#2b2b2b">Gastrointestinal</text>
<rect x="433.20" y="586.08" width="5.80" height="5.60" fill="#b3662a"/>
<text x="442.90" y="592.18" font-size="9.4" text-anchor="start" textLength="42.1" lengthAdjust="spacingAndGlyphs" fill="#2b2b2b">Pulmonary</text>
<rect x="433.20" y="600.11" width="5.80" height="5.60" fill="#5fa943"/>
<text x="442.90" y="606.21" font-size="9.4" text-anchor="start" textLength="40.4" lengthAdjust="spacingAndGlyphs" fill="#2b2b2b">Endocrine</text>
<rect x="433.20" y="614.14" width="5.80" height="5.60" fill="#6ea9dc"/>
<text x="442.90" y="620.24" font-size="9.4" text-anchor="start" textLength="64.2" lengthAdjust="spacingAndGlyphs" fill="#2b2b2b">Musculoskeletal</text>
<rect x="433.20" y="628.17" width="5.80" height="5.60" fill="#f1bd1e"/>
<text x="442.90" y="634.27" font-size="9.4" text-anchor="start" textLength="42.6" lengthAdjust="spacingAndGlyphs" fill="#2b2b2b">Neurology</text>
<rect x="433.20" y="642.20" width="5.80" height="5.60" fill="#c8c6cc"/>
<text x="442.90" y="648.30" font-size="9.4" text-anchor="start" textLength="53.4" lengthAdjust="spacingAndGlyphs" fill="#2b2b2b">Reproductive</text>
<rect x="433.20" y="656.23" width="5.80" height="5.60" fill="#d9921e"/>
<text x="442.90" y="662.33" font-size="9.4" text-anchor="start" textLength="38.9" lengthAdjust="spacingAndGlyphs" fill="#2b2b2b">Infections</text>
<rect x="433.20" y="670.26" width="5.80" height="5.60" fill="#b4bb9c"/>
<text x="442.90" y="676.36" font-size="9.4" text-anchor="start" textLength="34.9" lengthAdjust="spacingAndGlyphs" fill="#2b2b2b">Auditory</text>
<rect x="0" y="0" width="520" height="1" fill="#000"/>
<rect x="0" y="1" width="520" height="1" fill="#bbb"/>
<rect x="0" y="0" width="1" height="857" fill="#000"/>
<rect x="1" y="1" width="1" height="855" fill="#888"/>
<rect x="519" y="0" width="1" height="857" fill="#000"/>
<rect x="518" y="1" width="1" height="855" fill="#888"/>
<rect x="0" y="856" width="520" height="1" fill="#000"/>
<rect x="1" y="855" width="518" height="1" fill="#888"/>
</svg>
</body></html>
